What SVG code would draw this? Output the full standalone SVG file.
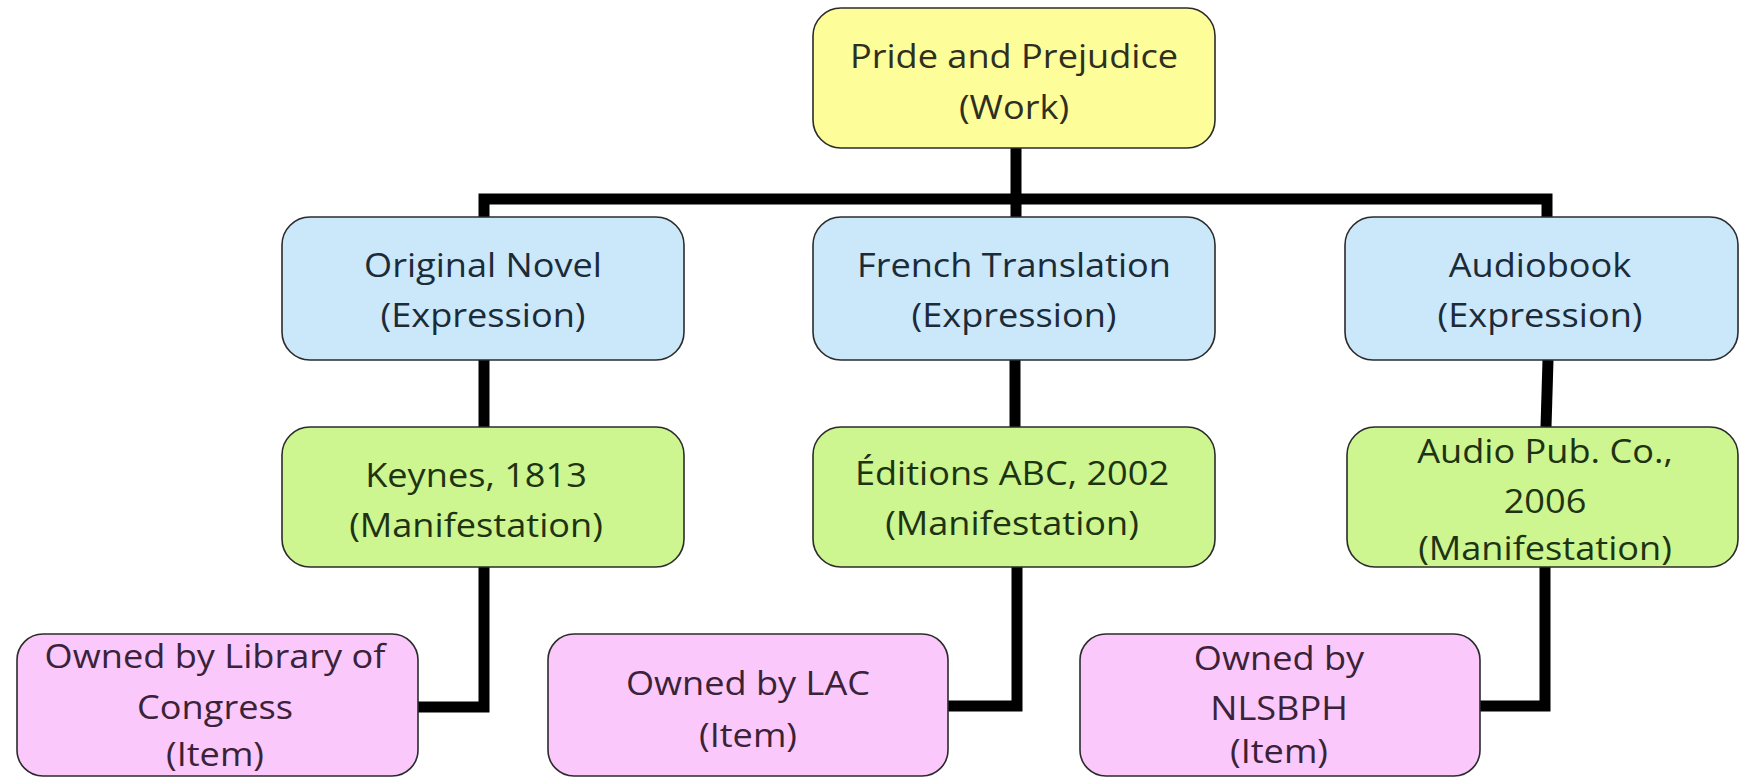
<svg xmlns="http://www.w3.org/2000/svg" width="1739" height="778" viewBox="0 0 1739 778">
<style>
.box{stroke:#2b2b2b;stroke-width:1.6}
.work{fill:#fdfd99}
.expr{fill:#cbe7fa}
.man{fill:#cdf590}
.item{fill:#fac8fa}
.t{font-family:"Open Sans","Noto Sans",sans-serif;font-size:32px;text-anchor:middle}
.tw{fill:#2f2f20}
.te{fill:#1c2b38}
.tm{fill:#1d3312}
.ti{fill:#3a2238}
.conn{fill:none;stroke:#000;stroke-width:11;stroke-linejoin:miter;stroke-linecap:butt}
</style>
<rect width="1739" height="778" fill="#ffffff"/>
<g id="connectors" class="conn">
<path d="M1016,148 V199"/>
<path d="M484,217 V199 H1547 V217"/>
<path d="M1016,199 V217"/>
<path d="M484,360 V427"/>
<path d="M1015,360 V427"/>
<path d="M1548,360 L1546,427"/>
<path d="M484,567 V707 H418"/>
<path d="M1017,567 V706 H948"/>
<path d="M1545,567 V706 H1480"/>
</g>
<g id="work">
<rect class="box work" x="813" y="8" width="402" height="140" rx="28"/>
<g transform="translate(1014,0) scale(1.13,1)" class="t tw"><text x="0" y="68">Pride and Prejudice</text><text x="0" y="119">(Work)</text></g>
</g>
<g id="expr-original">
<rect class="box expr" x="282" y="217" width="402" height="143" rx="28"/>
<g transform="translate(483,0) scale(1.13,1)" class="t te"><text x="0" y="277">Original Novel</text><text x="0" y="327">(Expression)</text></g>
</g>
<g id="expr-french">
<rect class="box expr" x="813" y="217" width="402" height="143" rx="28"/>
<g transform="translate(1014,0) scale(1.13,1)" class="t te"><text x="0" y="277">French Translation</text><text x="0" y="327">(Expression)</text></g>
</g>
<g id="expr-audio">
<rect class="box expr" x="1345" y="217" width="393" height="143" rx="28"/>
<g transform="translate(1540,0) scale(1.13,1)" class="t te"><text x="0" y="277">Audiobook</text><text x="0" y="327">(Expression)</text></g>
</g>
<g id="man-keynes">
<rect class="box man" x="282" y="427" width="402" height="140" rx="28"/>
<g transform="translate(476,0) scale(1.13,1)" class="t tm"><text x="0" y="487">Keynes, 1813</text><text x="0" y="537">(Manifestation)</text></g>
</g>
<g id="man-editions">
<rect class="box man" x="813" y="427" width="402" height="140" rx="28"/>
<g transform="translate(1012,0) scale(1.13,1)" class="t tm"><text x="0" y="485">Éditions ABC, 2002</text><text x="0" y="535">(Manifestation)</text></g>
</g>
<g id="man-audio">
<rect class="box man" x="1347" y="427" width="391" height="140" rx="28"/>
<g transform="translate(1545,0) scale(1.13,1)" class="t tm"><text x="0" y="463">Audio Pub. Co.,</text><text x="0" y="513">2006</text><text x="0" y="560">(Manifestation)</text></g>
</g>
<g id="item-loc">
<rect class="box item" x="17" y="634" width="401" height="142" rx="26"/>
<g transform="translate(215,0) scale(1.13,1)" class="t ti"><text x="0" y="668">Owned by Library of</text><text x="0" y="719">Congress</text><text x="0" y="766">(Item)</text></g>
</g>
<g id="item-lac">
<rect class="box item" x="548" y="634" width="400" height="142" rx="26"/>
<g transform="translate(748,0) scale(1.13,1)" class="t ti"><text x="0" y="695">Owned by LAC</text><text x="0" y="747">(Item)</text></g>
</g>
<g id="item-nlsbph">
<rect class="box item" x="1080" y="634" width="400" height="142" rx="26"/>
<g transform="translate(1279,0) scale(1.13,1)" class="t ti"><text x="0" y="670">Owned by</text><text x="0" y="720">NLSBPH</text><text x="0" y="763">(Item)</text></g>
</g>
</svg>
